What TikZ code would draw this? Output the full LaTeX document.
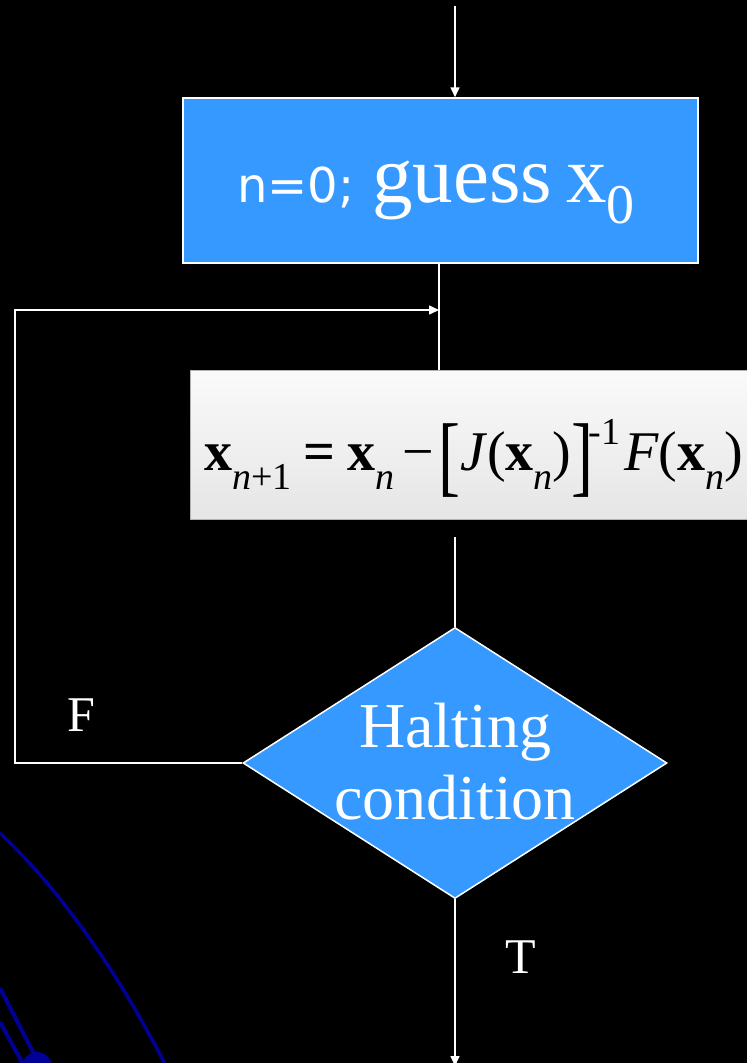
\documentclass[tikz,border=0pt]{standalone}
\usepackage{fontspec}
\usepackage{graphicx}
\setmainfont{Liberation Serif}
\newfontfamily\sansf{DejaVu Sans}
\usetikzlibrary{shapes.geometric,arrows.meta}
\definecolor{boxblue}{RGB}{54,153,255}
\definecolor{decoblue}{RGB}{0,0,150}
\newcommand\fs[1]{\fontsize{#1}{#1}\selectfont}
\newcommand\mysub[1]{\raisebox{-19pt}{\fs{38}#1}}
\newcommand\bigbr[1]{\raisebox{-15pt}{\scalebox{1}[1.35]{\fs{66}#1}}}
\begin{document}
\begin{tikzpicture}[x=1pt,y=-1pt,
  conn/.style={draw=white,line width=1.5pt},
  tip/.style={-{Triangle[width=9pt,length=10pt]}},
  bluebox/.style={draw=white,line width=1.5pt,fill=boxblue,inner sep=0pt},
  lbl/.style={text=white,font=\fs{50},inner sep=0pt,anchor=base}]
\fill[black] (0,0) rectangle (747,1063);
\clip (0,0) rectangle (747,1063);
\useasboundingbox (0,0) rectangle (747,1063);

% decorative curves
\draw[decoblue,line width=3.5pt] (0,833) .. controls (55,885) and (115,965) .. (168,1070);
\draw[decoblue,line width=4pt] (0,988) -- (34,1054);
\draw[decoblue,line width=4pt] (0,1022) -- (24,1066);
\fill[decoblue] (37,1067) circle (15);

% boxes
\node[bluebox,minimum width=515pt,minimum height=165pt] (box1) at (440.5,180.5) {};
\node[anchor=base,text=white,inner sep=0pt] (t1) at (436,202)
  {{\sansf\fs{48}n=0;}\hspace{18pt}{\fs{81}guess\hspace{14pt}x\raisebox{-21pt}{\fs{56}0}}};

\node[draw=gray!60,line width=1pt,top color=white!98!black,bottom color=white!90!black,
  minimum width=620pt,minimum height=149pt,inner sep=0pt,anchor=north west] (box2) at (190,370) {};
\node[anchor=base west,inner sep=0pt,text=black] (formula) at (204,470)
  {\fs{56}\textbf{x}\mysub{\textit{n}+1}\hspace{12pt}\textbf{=}\hspace{12pt}\textbf{x}\mysub{\textit{n}}\hspace{8pt}−\hspace{4pt}\bigbr{[}\textit{J}(\textbf{x}\mysub{\textit{n}})\bigbr{]}\kern-5pt\raisebox{26pt}{\fs{38}-1}\hspace{4pt}\textit{F}(\textbf{x}\mysub{\textit{n}})};

\node[diamond,bluebox,minimum width=424pt,minimum height=271pt] (dia) at (455,763) {};
\node[text=white,align=center,font=\fontsize{64}{72}\selectfont,inner sep=0pt] (dtext) at (455,762) {Halting\\condition};

% connectors
\coordinate (top) at (455,6);
\coordinate (merge) at (439,310);
\coordinate (lx) at (15,310);
\coordinate (d1) at (455,537);
\coordinate (bot) at (455,1066);
\draw[conn,tip] (top) -- (top |- box1.north);
\draw[conn] (merge |- box1.south) -- (merge |- box2.north);
\draw[conn,tip] (dia.west) -| (lx) -- (merge);
\draw[conn] (d1) -- (dia.north);
\draw[conn,tip] (dia.south) -- (bot);

\node[lbl] (F) at (81,731) {F};
\node[lbl] (T) at (521,973) {T};
\end{tikzpicture}
\end{document}
